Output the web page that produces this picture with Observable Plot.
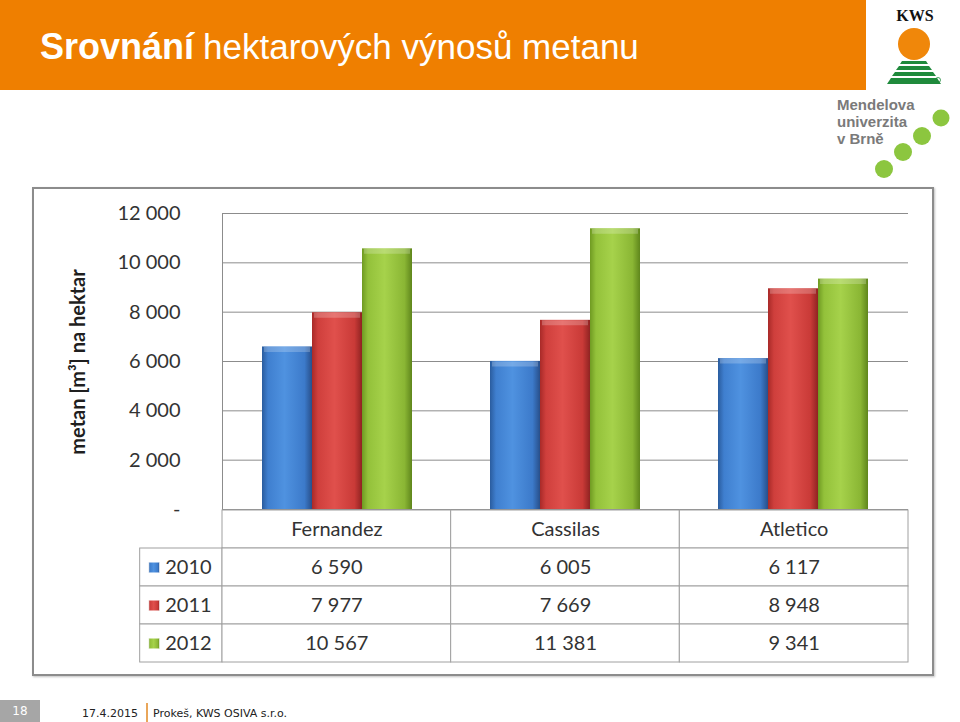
<!DOCTYPE html>
<html>
<head>
<meta charset="utf-8">
<script src="https://cdn.jsdelivr.net/npm/d3@7"></script>
<script src="https://cdn.jsdelivr.net/npm/@observablehq/plot@0.6"></script>
<style>
  html, body { margin: 0; padding: 0; }
  body { width: 960px; height: 722px; position: relative; overflow: hidden; background: #fff; font-family: Lato, sans-serif; }
  #header { position: absolute; left: 0; top: 0; width: 866px; height: 90px; background: #ef7f00; }
  #title { position: absolute; left: 40px; top: 27px; color: #fff; font-family: "Liberation Sans", Arial, sans-serif; line-height: 40px; white-space: nowrap; }
  #title b { font-weight: bold; font-size: 36px; }
  #title span { font-weight: normal; font-size: 35px; margin-left: 9px; }
  #logos { position: absolute; left: 820px; top: 0; }
  #box { position: absolute; left: 32px; top: 187px; width: 898px; height: 485px; border: 2px solid #8c8c8c; box-shadow: 1px 1px 2px rgba(0,0,0,0.25); }
  #ylabel { position: absolute; left: 77px; top: 362px; transform: translate(-50%, -50%) rotate(-90deg); font-family: Lato, sans-serif; font-weight: bold; font-size: 20px; color: #1f1f1f; white-space: nowrap; }
  #frame, #chart, #table { position: absolute; left: 0; }
  #frame, #chart { top: 187px; }
  #table { top: 500px; }
  #pagenum { position: absolute; left: 0; top: 700px; width: 40px; height: 22px; background: #a6a6a6; color: #fff; font-family: "DejaVu Sans", Verdana, sans-serif; font-size: 12px; line-height: 22px; text-align: center; }
  #foot { position: absolute; left: 82px; top: 703px; font-family: "DejaVu Sans", Verdana, sans-serif; font-size: 11px; color: #222; white-space: nowrap; }
  #foot .sep { display: inline-block; width: 2px; height: 20px; background: #e9a65a; vertical-align: -6px; margin: 0 5px 0 8px; }
</style>
</head>
<body>
<div id="header"><div id="title"><b>Srovnání</b><span>hektarových výnosů metanu</span></div></div>
<svg id="logos" width="140" height="185" viewBox="820 0 140 185">
  <text x="915" y="21" text-anchor="middle" font-family="Liberation Serif, DejaVu Serif, serif" font-weight="bold" font-size="16" fill="#111">KWS</text>
  <circle cx="914" cy="44" r="16" fill="#f0870a"/>
  <g fill="#1f8a3c">
    <polygon points="902,61 926,61 928,64 900,64"/>
    <polygon points="899,66 929,66 932,70 896,70"/>
    <polygon points="895,72 933,72 936,76 892,76"/>
    <polygon points="891,78 937,78 941,84 887,84"/>
  </g>
  <circle cx="938" cy="80" r="2.5" fill="none" stroke="#1f8a3c" stroke-width="0.8"/>
  <g font-family="Liberation Sans, Arial, sans-serif" font-size="15" fill="#7a7a7a" font-weight="bold">
    <text x="837" y="110">Mendelova</text>
    <text x="837" y="127">univerzita</text>
    <text x="837" y="144">v Brně</text>
  </g>
  <g fill="#8cc63f">
    <circle cx="941" cy="118" r="8.5"/>
    <circle cx="922" cy="136" r="9"/>
    <circle cx="903" cy="152" r="9"/>
    <circle cx="884" cy="169" r="9"/>
  </g>
</svg>
<div id="box"></div>
<div id="ylabel">metan [m³] na hektar</div>
<div id="pagenum">18</div>
<div id="foot">17.4.2015<span class="sep"></span>Prokeš, KWS OSIVA s.r.o.</div>
<script>
// ---- data ----
const categories = ["Fernandez", "Cassilas", "Atletico"];
const years = ["2010", "2011", "2012"];
const values2010 = [6590, 6005, 6117];
const values2011 = [7977, 7669, 8948];
const values2012 = [10567, 11381, 9341];
const yTicks = [0, 2000, 4000, 6000, 8000, 10000, 12000];

const seriesValues = { "2010": values2010, "2011": values2011, "2012": values2012 };
const rows = categories.flatMap((cat, i) => years.map(year => ({ cat, year, col: i, value: seriesValues[year][i] })));
const fills = { "2010": "url(#gBlue)", "2011": "url(#gRed)", "2012": "url(#gGreen)" };
const fmt = v => v === 0 ? "-" : d3.format(",")(v).replace(/,/g, " ");

const textColor = "#333333";
const gridColor = "#8c8c8c";
const tableLine = "#a0a0a0";

function addGradients(svg, suffix) {
  const defs = d3.select(svg).insert("defs", ":first-child");
  const grads = {
    gBlue: ["#2a5c9e", "#3f7fcf", "#4f92e0", "#3c7aca", "#284f8a"],
    gRed: ["#a82a28", "#cf3f3c", "#e0504c", "#c93a37", "#8f2322"],
    gGreen: ["#6f9a22", "#93c13a", "#a6d24b", "#8ab634", "#5f861c"]
  };
  for (const [id, c] of Object.entries(grads)) {
    const g = defs.append("linearGradient").attr("id", id + suffix).attr("x1", 0).attr("x2", 1).attr("y1", 0).attr("y2", 0);
    [0, 0.12, 0.45, 0.85, 1].forEach((o, i) => g.append("stop").attr("offset", o).attr("stop-color", c[i]));
  }
  if (suffix) d3.select(svg).selectAll("[fill^='url(#g']").attr("fill", function() { return this.getAttribute("fill").replace(")", suffix + ")"); });
}

const common = {
  width: 960,
  height: 330,
  marginLeft: 222,
  marginRight: 52,
  marginTop: 26,
  marginBottom: 8,
  style: { background: "transparent", fontFamily: "Lato, sans-serif", fontSize: "20px", color: textColor, overflow: "visible" }
};

// ---- frame: gridlines, y axis and its line ----
const frame = Plot.plot({
  ...common,
  x: { domain: [0, categories.length], axis: null },
  y: { domain: [0, 12000], axis: null },
  marks: [
    Plot.gridY(yTicks, { stroke: gridColor, strokeOpacity: 1, strokeWidth: 1 }),
    Plot.ruleX([0], { stroke: gridColor, strokeWidth: 1 }),
    Plot.axisY(yTicks, { tickSize: 0, tickPadding: 42, tickFormat: fmt, label: null, fontSize: 20, fill: textColor })
  ]
});
frame.id = "frame";
document.body.appendChild(frame);

// ---- grouped bars ----
const chart = Plot.plot({
  ...common,
  fx: { domain: categories, padding: 0, axis: null, label: null },
  x: { domain: years, paddingInner: 0, paddingOuter: 0.76, axis: null },
  y: { domain: [0, 12000], axis: null },
  color: { type: "identity" },
  marks: [
    Plot.barY(rows, { fx: "cat", x: "year", y: "value", fill: d => fills[d.year] }),
    Plot.tickY(rows, { fx: "cat", x: "year", y: "value", stroke: "#ffffff", strokeWidth: 5, dy: 2.5, strokeOpacity: 0.22, inset: 2 })
  ]
});
chart.id = "chart";
addGradients(chart, "");
document.body.appendChild(chart);

// ---- data table ----
const legendSpan = 0.36; // width of the legend column, in category-column units
const headerCells = categories.map((cat, i) => ({ row: "head", x1: i, x2: i + 1, label: cat }));
const legendCells = years.map(year => ({ row: year, x1: -legendSpan, x2: 0, label: year }));
const table = Plot.plot({
  ...common,
  height: 170,
  marginTop: 9,
  marginBottom: 8,
  x: { domain: [0, categories.length], axis: null },
  y: { domain: ["head", ...years], padding: 0, axis: null },
  color: { type: "identity" },
  marks: [
    Plot.barX(headerCells, { x1: "x1", x2: "x2", y: "row", fill: "white", stroke: tableLine }),
    Plot.barX(legendCells, { x1: "x1", x2: "x2", y: "row", fill: "white", stroke: tableLine }),
    Plot.barX(rows, { x1: d => d.col, x2: d => d.col + 1, y: "year", fill: "white", stroke: tableLine }),
    Plot.text(headerCells, { x: d => (d.x1 + d.x2) / 2, y: "row", text: "label", fontSize: 20, fill: textColor }),
    Plot.text(rows, { x: d => d.col + 0.5, y: "year", text: d => fmt(d.value), fontSize: 20, fill: textColor }),
    Plot.dot(legendCells, { x: "x1", y: "row", dx: 14, symbol: "square", r: 6, fill: d => fills[d.label], stroke: "#ffffff", strokeWidth: 0.6 }),
    Plot.text(legendCells, { x: "x1", y: "row", dx: 25, text: "label", textAnchor: "start", fontSize: 20, fill: textColor })
  ]
});
table.id = "table";
addGradients(table, "T");
document.body.appendChild(table);
</script>
</body>
</html>
